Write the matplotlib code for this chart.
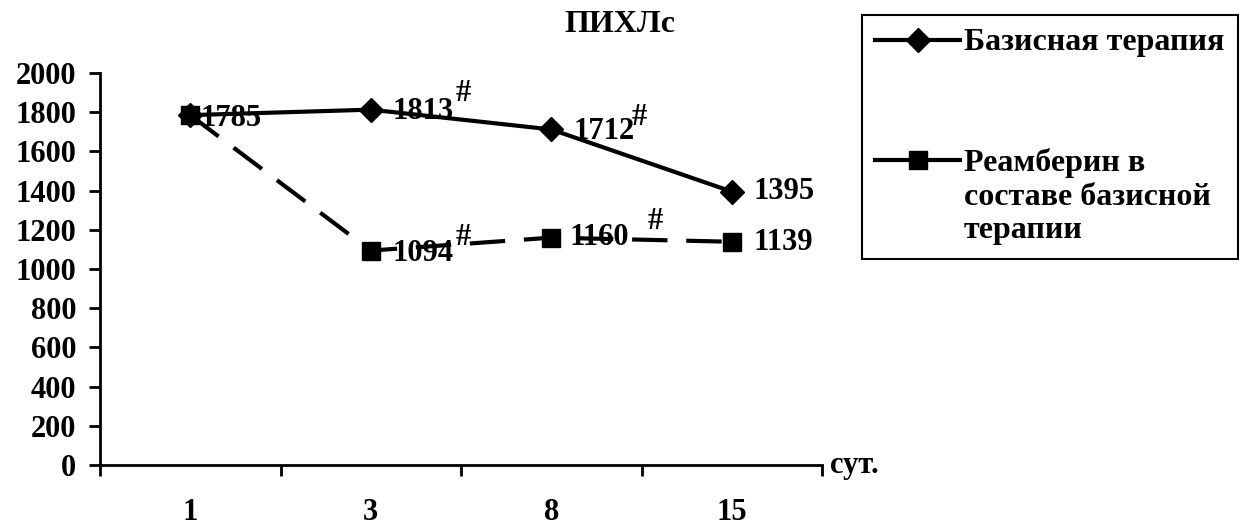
#! /usr/bin/env python

import matplotlib
matplotlib.use('Agg')
import matplotlib.pyplot as plt
from matplotlib.lines import Line2D

# data
days = ['1', '3', '8', '15']
basic = [1785, 1813, 1712, 1395]
ream = [1785, 1094, 1160, 1139]
basic_marks = ['', '#', '#', '']
ream_marks = ['', '#', '#', '']
yticks = list(range(0, 2001, 200))

name_basic = 'Базисная терапия'
name_ream = 'Реамберин в\nсоставе базисной\nтерапии'

# label offsets in pixels (value label, '#' sign)
basic_off = [None, (22, -2), (22, -2), (22, 0)]
basic_hash = [None, (93, 16), (88, 12), None]
ream_off = [(10, -3), (22, -3), (18, 0), (22, -1)]
ream_hash = [None, (93, 13), (104, 16), None]

plt.rcParams['font.family'] = ['Liberation Serif', 'DejaVu Serif']
plt.rcParams['font.weight'] = 'bold'
plt.rcParams['font.size'] = 22

if __name__ == "__main__":
    fig = plt.figure(figsize=(12.44, 5.31), dpi=100)
    ax = fig.add_axes([100 / 1244, 1 - 465 / 531, 722 / 1244, 392 / 531])

    x = list(range(len(days)))
    ax.plot(x, basic, color='black', lw=3, marker='D', ms=12, zorder=3)
    ax.plot(x, ream, color='black', lw=3, ls=(0, (8.5, 4.5)), marker='s',
            ms=13, zorder=3)

    # value labels, the first point is shared by both series
    for i in x:
        if i > 0:
            ax.annotate(str(basic[i]), (i, basic[i]), xytext=basic_off[i],
                        textcoords='offset pixels', ha='left', va='center',
                        zorder=1)
        if basic_marks[i]:
            ax.annotate(basic_marks[i], (i, basic[i]), xytext=basic_hash[i],
                        textcoords='offset pixels', ha='center', va='center',
                        zorder=1)
        ax.annotate(str(ream[i]), (i, ream[i]), xytext=ream_off[i],
                    textcoords='offset pixels', ha='left', va='center',
                    zorder=1)
        if ream_marks[i]:
            ax.annotate(ream_marks[i], (i, ream[i]), xytext=ream_hash[i],
                        textcoords='offset pixels', ha='center', va='center',
                        zorder=1)

    ax.set_xlim(-0.5, len(days) - 0.5)
    ax.set_ylim(0, 2000)
    ax.set_yticks(yticks)
    ax.set_xticks(x)
    ax.set_xticklabels(days)
    ax.set_xticks([i - 0.5 for i in range(len(days) + 1)], minor=True)
    ax.tick_params(axis='x', which='major', length=0, pad=24)
    ax.tick_params(axis='x', which='minor', length=8, width=2, direction='out')
    ax.tick_params(axis='y', length=8, width=2, direction='out', pad=9)

    for s in ['top', 'right']:
        ax.spines[s].set_visible(False)
    for s in ['left', 'bottom']:
        ax.spines[s].set_linewidth(2)

    ax.annotate('сут.', (1, 0), xycoords='axes fraction', xytext=(8, 0),
                textcoords='offset pixels', ha='left', va='center')

    fig.text(620 / 1244, 1 - 25 / 531, 'ПИХЛс', ha='center', va='center',
             fontsize=23)

    handles = [Line2D([], [], color='black', lw=3, marker='D', ms=12),
               Line2D([], [], color='black', lw=3, marker='s', ms=13)]
    leg = fig.legend(handles, [name_basic, name_ream], loc='upper left',
                     bbox_to_anchor=(862 / 1244, 1 - 15 / 531),
                     frameon=True, fancybox=False, edgecolor='black',
                     framealpha=1, fontsize=23, handlelength=2.65,
                     handletextpad=0.12, labelspacing=2.85, borderpad=0.42,
                     borderaxespad=0)
    leg.get_frame().set_linewidth(1.5)
    for t in leg.get_texts():
        t.set_linespacing(1.2)
    # put the marker next to the first line of a multi-line label
    for col in leg._legend_handle_box.get_children():
        for item in col.get_children():
            item.align = 'top'

    plt.savefig('out.png', dpi=100)
